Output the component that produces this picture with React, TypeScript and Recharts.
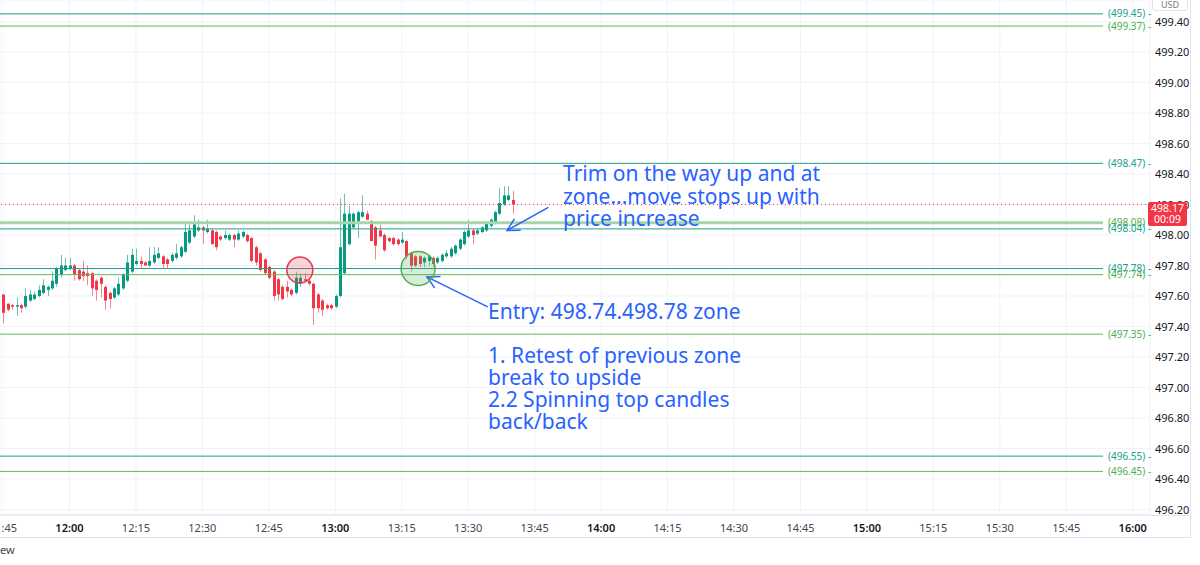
import { ComposedChart, Bar, XAxis, YAxis, CartesianGrid, ReferenceLine, ReferenceDot } from 'recharts';

// 1-minute candles, first one at 11:45
const candleOpen = [
  497.61, 497.55, 497.54, 497.53, 497.54, 497.53, 497.57, 497.58, 497.6, 497.62,
  497.64, 497.65, 497.68, 497.74, 497.77, 497.78, 497.8, 497.77, 497.76, 497.75,
  497.75, 497.7, 497.72, 497.66, 497.62, 497.59, 497.61, 497.65, 497.7, 497.76,
  497.81, 497.83, 497.82, 497.8, 497.82, 497.85, 497.86, 497.84, 497.83, 497.85,
  497.86, 497.89, 497.95, 497.99, 498.03, 498.05, 498.02, 498.03, 498.02, 497.99,
  497.98, 497.97, 498.0, 497.97, 497.99, 498.0, 497.98, 497.92, 497.88, 497.84,
  497.79, 497.76, 497.71, 497.66, 497.66, 497.64, 497.62, 497.68, 497.71, 497.7,
  497.68, 497.61, 497.57, 497.54, 497.54, 497.53, 497.6, 497.75, 497.94, 498.05,
  498.09, 498.12, 498.14, 498.09, 498.05, 498.03, 498.0, 497.98, 497.98, 497.97,
  497.95, 497.96, 497.88, 497.86, 497.86, 497.82, 497.83, 497.85, 497.82, 497.83,
  497.86, 497.86, 497.88, 497.91, 497.94, 497.99, 498.03, 498.01, 498.02, 498.03,
  498.06, 498.08, 498.14, 498.2, 498.23, 498.23,
];
const candleHigh = [
  497.61, 497.55, 497.55, 497.59, 497.55, 497.65, 497.64, 497.63, 497.67, 497.71,
  497.67, 497.76, 497.79, 497.87, 497.85, 497.85, 497.81, 497.78, 497.83, 497.8,
  497.76, 497.71, 497.73, 497.67, 497.63, 497.66, 497.72, 497.75, 497.87, 497.91,
  497.91, 497.86, 497.83, 497.92, 497.92, 497.92, 497.87, 497.85, 497.88, 497.94,
  497.93, 498.08, 498.07, 498.13, 498.1, 498.06, 498.1, 498.04, 498.03, 498.0,
  498.03, 498.01, 498.01, 498.03, 498.03, 498.01, 497.99, 497.93, 497.89, 497.85,
  497.8, 497.77, 497.72, 497.67, 497.7, 497.65, 497.76, 497.75, 497.75, 497.71,
  497.69, 497.62, 497.58, 497.55, 497.55, 497.61, 498.24, 498.27, 498.19, 498.15,
  498.16, 498.26, 498.16, 498.1, 498.06, 498.07, 498.01, 497.99, 497.99, 497.98,
  498.02, 497.97, 497.89, 497.87, 497.87, 497.86, 497.87, 497.86, 497.86, 497.88,
  497.9, 497.92, 497.94, 497.98, 498.03, 498.1, 498.04, 498.04, 498.06, 498.09,
  498.11, 498.16, 498.31, 498.32, 498.32, 498.29,
];
const candleLow = [
  497.42, 497.5, 497.51, 497.47, 497.49, 497.52, 497.56, 497.57, 497.59, 497.61,
  497.6, 497.64, 497.66, 497.72, 497.76, 497.77, 497.7, 497.7, 497.7, 497.67,
  497.6, 497.57, 497.59, 497.51, 497.52, 497.58, 497.6, 497.64, 497.69, 497.75,
  497.8, 497.78, 497.8, 497.79, 497.81, 497.84, 497.78, 497.78, 497.82, 497.84,
  497.85, 497.88, 497.94, 497.98, 498.02, 497.94, 498.01, 497.94, 497.9, 497.96,
  497.97, 497.96, 497.92, 497.96, 497.98, 497.95, 497.82, 497.8, 497.76, 497.74,
  497.71, 497.57, 497.57, 497.57, 497.59, 497.6, 497.61, 497.66, 497.69, 497.67,
  497.41, 497.49, 497.47, 497.51, 497.51, 497.52, 497.59, 497.74, 497.93, 498.04,
  497.98, 498.11, 498.1, 497.96, 497.84, 497.99, 497.89, 497.95, 497.93, 497.93,
  497.94, 497.84, 497.76, 497.79, 497.79, 497.79, 497.8, 497.79, 497.81, 497.82,
  497.85, 497.85, 497.87, 497.9, 497.93, 497.98, 497.94, 498.0, 498.01, 498.02,
  498.05, 498.07, 498.13, 498.19, 498.22, 498.14,
];
const candleClose = [
  497.49, 497.51, 497.53, 497.54, 497.52, 497.6, 497.61, 497.61, 497.64, 497.67,
  497.66, 497.7, 497.78, 497.8, 497.8, 497.8, 497.74, 497.71, 497.73, 497.73,
  497.65, 497.64, 497.68, 497.57, 497.58, 497.65, 497.68, 497.74, 497.82, 497.87,
  497.83, 497.81, 497.8, 497.83, 497.87, 497.88, 497.81, 497.81, 497.87, 497.88,
  497.92, 498.02, 498.03, 498.07, 498.05, 498.03, 498.04, 497.94, 497.92, 497.97,
  498.0, 498.0, 497.97, 498.01, 498.02, 497.96, 497.83, 497.82, 497.77, 497.75,
  497.72, 497.6, 497.61, 497.58, 497.63, 497.61, 497.72, 497.72, 497.7, 497.68,
  497.52, 497.52, 497.51, 497.52, 497.52, 497.6, 497.92, 498.14, 498.14, 498.14,
  498.15, 498.15, 498.1, 497.96, 497.93, 497.99, 497.9, 497.96, 497.94, 497.94,
  497.97, 497.86, 497.8, 497.8, 497.81, 497.85, 497.86, 497.81, 497.85, 497.87,
  497.88, 497.91, 497.93, 497.97, 498.02, 498.03, 498.0, 498.03, 498.05, 498.08,
  498.1, 498.15, 498.21, 498.26, 498.26, 498.2,
];

// minutes after 11:45
const timeTicks = [0, 15, 30, 45, 60, 75, 90, 105, 120, 135, 150, 165, 180, 195, 210, 225, 240, 255];
const timeTickLabels = [
  '11:45', '12:00', '12:15', '12:30', '12:45', '13:00', '13:15', '13:30', '13:45',
  '14:00', '14:15', '14:30', '14:45', '15:00', '15:15', '15:30', '15:45', '16:00',
];
const priceTicks = [
  496.2, 496.4, 496.6, 496.8, 497.0, 497.2, 497.4, 497.6, 497.8,
  498.0, 498.2, 498.4, 498.6, 498.8, 499.0, 499.2, 499.4,
];

const levelPrices = [499.45, 499.37, 498.47, 498.08, 498.04, 497.78, 497.74, 497.35, 496.55, 496.45];
const levelKinds = ['teal', 'green', 'teal', 'pale', 'teal', 'teal', 'green', 'green', 'teal', 'green'];

const circleTimes = [67, 93.7];
const circlePrices = [497.77, 497.78];
const circleKinds = ['red', 'green'];

const arrowFrom = [[123, 498.18], [109.3, 497.53]];
const arrowTo = [[113.8, 498.03], [95.7, 497.725]];

const lastPrice = '498.17';
const countdown = '00:09';

const trimNote = ['Trim on the way up and at', 'zone...move stops up with', 'price increase'];
const entryNote = 'Entry: 498.74.498.78 zone';
const retestNote = ['1. Retest of previous zone', 'break to upside', '2.2 Spinning top candles', 'back/back'];

const GREEN = '#089981';
const RED = '#f23645';
const BLUE = '#2962ff';
const FONT = '"Noto Sans", "Open Sans", sans-serif';

const levelStyle: any = {
  teal: { stroke: '#1f9e8c', width: 1, text: '#22a08e' },
  green: { stroke: '#5cb85c', width: 1, text: '#4caf50' },
  pale: { stroke: '#a5d6a7', width: 3, text: '#4caf50' },
};

const candles = candleOpen.map((open, i) => ({
  t: i,
  open,
  high: candleHigh[i],
  low: candleLow[i],
  close: candleClose[i],
}));

const Candle = (props: any) => {
  const { x, y, width, height, payload } = props;
  const { open, close, high, low } = payload;
  const top = Math.min(y, y + height);
  const h = Math.abs(height);
  const ratio = high === low ? 0 : h / (high - low);
  const py = (v: number) => top + (high - v) * ratio;
  const color = close >= open ? GREEN : RED;
  const bodyTop = py(Math.max(open, close));
  const bodyH = Math.max(1, py(Math.min(open, close)) - bodyTop);
  const cx = Math.round(x + width / 2) + 0.5;
  return (
    <g>
      <line x1={cx} x2={cx} y1={top} y2={top + h} stroke={color} strokeOpacity={0.6} />
      <rect x={cx - 1.5} y={bodyTop} width={3} height={bodyH} fill={color} />
    </g>
  );
};

const TimeTick = ({ x, y, payload }: any) => {
  const label = timeTickLabels[timeTicks.indexOf(payload.value)];
  const bold = label.endsWith(':00');
  return (
    <text x={x} y={y + 9} textAnchor="middle" fontSize={11} fontFamily={FONT}
      fontWeight={bold ? 600 : 400} fill={bold ? '#131722' : '#434651'}>
      {label}
    </text>
  );
};

const PriceTick = ({ x, y, payload }: any) => (
  <text x={x} y={y + 4} textAnchor="start" fontSize={11} fontFamily={FONT} fill="#131722">
    {payload.value.toFixed(2)}
  </text>
);

const Arrow = (props: any) => {
  const { x1, y1, x2, y2 } = props;
  const a = Math.atan2(y1 - y2, x1 - x2);
  const len = 13;
  const s = 0.5;
  return (
    <g stroke={BLUE} strokeWidth={1.5} fill="none" strokeLinecap="round">
      <line x1={x1} y1={y1} x2={x2} y2={y2} />
      <polyline
        points={`${x2 + len * Math.cos(a + s)},${y2 + len * Math.sin(a + s)} ${x2},${y2} ${x2 + len * Math.cos(a - s)},${y2 + len * Math.sin(a - s)}`}
      />
    </g>
  );
};

const noteStyle: any = {
  position: 'absolute',
  color: BLUE,
  fontFamily: FONT,
  fontSize: 21,
  lineHeight: '22.5px',
  whiteSpace: 'nowrap',
};

export default function App() {
  return (
    <div style={{ position: 'absolute', left: 0, top: 0, width: 1200, height: 565, background: '#fff', overflow: 'hidden' }}>
      <ComposedChart width={1200} height={538} data={candles} margin={{ top: 0, right: 0, left: 0, bottom: 0 }}>
        <CartesianGrid stroke="#f0f3fa" />
        <XAxis
          dataKey="t"
          type="number"
          domain={[-0.68, 258.9]}
          allowDataOverflow
          ticks={timeTicks}
          tick={<TimeTick />}
          tickLine={false}
          axisLine={{ stroke: '#e0e3eb' }}
          height={23}
          interval={0}
        />
        <YAxis
          orientation="right"
          type="number"
          domain={[496.164, 499.541]}
          allowDataOverflow
          ticks={priceTicks}
          tick={<PriceTick />}
          tickLine={false}
          axisLine={false}
          tickSize={0}
          tickMargin={5}
          width={50}
          interval={0}
        />
        {levelPrices.map((p, i) => {
          const st = levelStyle[levelKinds[i]];
          return (
            <ReferenceLine
              key={`lvl-${i}`}
              segment={[{ x: -0.68, y: p }, { x: 248.3, y: p }]}
              stroke={st.stroke}
              strokeWidth={st.width}
              ifOverflow="visible"
              label={{ value: `(${p.toFixed(2)}) -`, position: 'right', fill: st.text, fontSize: 10, fontFamily: FONT, offset: 5 }}
            />
          );
        })}
        <ReferenceLine y={candleClose[candleClose.length - 1]} stroke={RED} strokeDasharray="1 3" />
        <Bar
          dataKey={(d: any) => [d.low, d.high]}
          barSize={3}
          shape={<Candle />}
          isAnimationActive={false}
        />
        {circleTimes.map((t, i) => (
          <ReferenceDot
            key={`c-${i}`}
            x={t}
            y={circlePrices[i]}
            r={circleKinds[i] === 'red' ? 13 : 17}
            fill={circleKinds[i] === 'red' ? 'rgba(242,54,69,0.22)' : 'rgba(76,175,80,0.22)'}
            stroke={circleKinds[i] === 'red' ? '#e53950' : '#4caf50'}
            strokeWidth={1.5}
            ifOverflow="visible"
          />
        ))}
        {arrowFrom.map((f, i) => (
          <ReferenceLine
            key={`a-${i}`}
            segment={[{ x: f[0], y: f[1] }, { x: arrowTo[i][0], y: arrowTo[i][1] }]}
            ifOverflow="visible"
            shape={<Arrow />}
          />
        ))}
      </ComposedChart>

      {/* frame of the price / time scales */}
      <div style={{ position: 'absolute', left: 1150, top: 515, width: 40, height: 0, borderTop: '1px solid #e0e3eb' }} />
      <div style={{ position: 'absolute', left: 0, top: 537, width: 1190, height: 0, borderTop: '1px solid #e0e3eb' }} />
      <div style={{ position: 'absolute', left: 1190, top: 0, width: 0, height: 538, borderLeft: '1px solid #e0e3eb' }} />
      <div style={{ position: 'absolute', left: 1152, top: -6, width: 34, height: 15, border: '1px solid #e0e3eb', borderRadius: 3,
        fontFamily: FONT, fontSize: 9, color: '#787b86', textAlign: 'center', lineHeight: '19px', background: '#fff' }}>USD</div>

      {/* last price label */}
      <div style={{ position: 'absolute', left: 1148, top: 202, width: 39, height: 24, background: RED, borderRadius: 2,
        color: '#fff', fontFamily: FONT, fontSize: 10.5, lineHeight: '11px', textAlign: 'center', paddingTop: 1, boxSizing: 'border-box' }}>
        <div>{lastPrice}</div>
        <div>{countdown}</div>
      </div>

      <div style={{ ...noteStyle, left: 563, top: 162 }}>
        {trimNote.map((l) => <div key={l}>{l}</div>)}
      </div>
      <div style={{ ...noteStyle, left: 488, top: 300 }}>{entryNote}</div>
      <div style={{ ...noteStyle, left: 488, top: 344, lineHeight: '22px' }}>
        {retestNote.map((l) => <div key={l}>{l}</div>)}
      </div>

      <div style={{ position: 'absolute', left: 0, top: 542, fontFamily: FONT, fontSize: 11, color: '#434651' }}>ew</div>
    </div>
  );
}
